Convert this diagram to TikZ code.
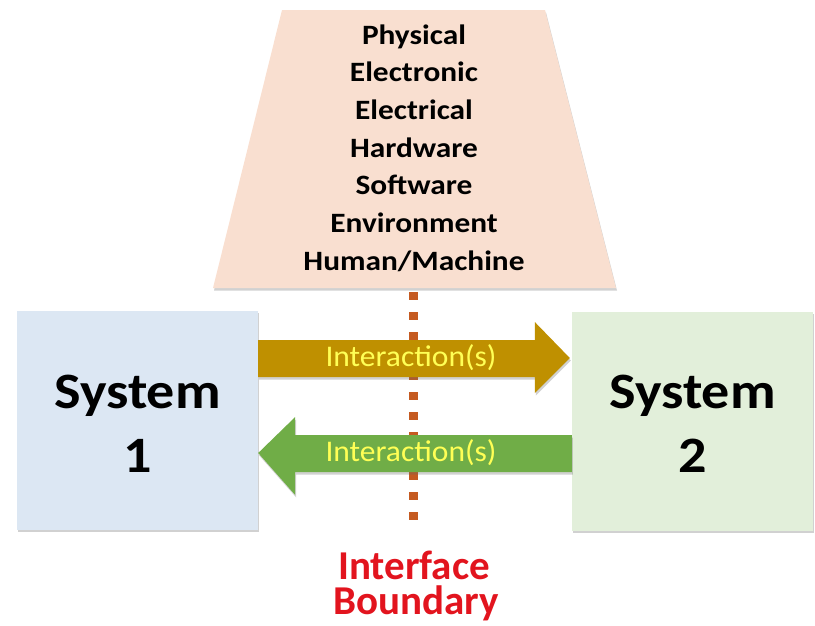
\documentclass[tikz,border=0pt]{standalone}
\usepackage{fontspec}
\setmainfont{Carlito}
\usetikzlibrary{calc,shadows}
\definecolor{peach}{HTML}{F9DFD0}
\definecolor{sysblue}{HTML}{DCE7F3}
\definecolor{sysgreen}{HTML}{E2EFDA}
\definecolor{gold}{HTML}{BF9000}
\definecolor{leaf}{HTML}{70AD47}
\definecolor{ifred}{HTML}{E2141E}
\definecolor{boundary}{HTML}{C55A21}
\definecolor{labelyellow}{HTML}{FFFF55}
\tikzset{
  softshadow/.style={drop shadow={opacity=0.3,shadow xshift=1pt,shadow yshift=-2.5pt,fill=black!60}},
  sysbox/.style={minimum width=241pt,minimum height=219pt,inner sep=0pt,softshadow},
  systext/.style={align=center,font=\fontsize{51}{64}\selectfont\bfseries,xscale=1.1},
  arrowlabel/.style={font=\fontsize{30}{34}\selectfont,text=labelyellow,inner sep=0pt,xscale=1.05},
  caption/.style={text=ifred,font=\fontsize{41}{41}\selectfont\bfseries,inner sep=0pt,anchor=base},
}
\begin{document}
\begin{tikzpicture}[x=1pt,y=-1pt]
\useasboundingbox (0,0) rectangle (815,625);

% trapezoid listing interface kinds
\path[fill=peach,softshadow] (282,10) -- (545,10) -- (616,288) -- (213,288) -- cycle;
\node[align=center,font=\fontsize{28}{37.7}\selectfont\bfseries,xscale=1.12] (kinds) at (414,148)
  {Physical\\Electronic\\Electrical\\Hardware\\Software\\Environment\\Human/Machine};

% the two systems
\node[sysbox,fill=sysblue] (s1) at (137.5,420) {};
\node[sysbox,fill=sysgreen] (s2) at (692.5,421) {};
\node[systext] (t1) at ($(s1.center)+(0,4)$) {System\\1};
\node[systext] (t2) at ($(s2.center)+(0,3)$) {System\\2};

% interface boundary (dotted)
\coordinate (btop) at (413,292);
\coordinate (bbot) at (413,531);
\draw[boundary,line width=9pt,dash pattern=on 8pt off 12pt] (btop) -- (bbot);

% interaction from system 1 to system 2
\fill[gold,softshadow] ($(s1.east)+(0,-80)$) -- ($(s2.west)+(-37,-81)$) -- ($(s2.west)+(-37,-99)$)
  -- ($(s2.west)+(-2,-63)$) -- ($(s2.west)+(-37,-28)$) -- ($(s2.west)+(-37,-44)$)
  -- ($(s1.east)+(0,-43)$) -- cycle;
\node[arrowlabel] (i12) at (411,358) {Interaction(s)};

% interaction from system 2 to system 1
\fill[leaf,softshadow] ($(s2.west)+(0,14)$) -- ($(s1.east)+(37,15)$) -- ($(s1.east)+(37,-3)$)
  -- ($(s1.east)+(0,33)$) -- ($(s1.east)+(37,75)$) -- ($(s1.east)+(37,52)$)
  -- ($(s2.west)+(0,51)$) -- cycle;
\node[arrowlabel] (i21) at (411,453) {Interaction(s)};

% boundary caption
\node[caption] (cap1) at (414,579) {Interface};
\node[caption] (cap2) at (416,614) {Boundary};
\end{tikzpicture}
\end{document}
